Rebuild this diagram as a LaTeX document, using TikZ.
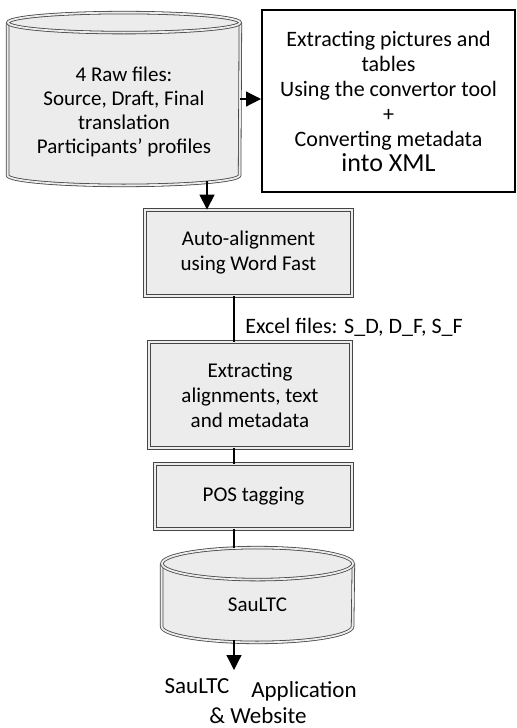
\documentclass[tikz,border=0pt]{standalone}
\usepackage{fontspec}
\setmainfont{Carlito}
\usetikzlibrary{arrows.meta}

\begin{document}
\begin{tikzpicture}[x=0.5pt,y=-0.5pt,
    stepbox/.style={draw=gray!55!black, double=gray!15, double distance=0.9pt,
      fill=gray!15, align=center, inner sep=0pt,
      font=\fontsize{10.5}{12.5}\selectfont},
    cylbox/.style={inner sep=0pt},
    rim/.style={draw=gray!55!black, double=gray!15, double distance=0.9pt},
    txt/.style={align=center, inner sep=0pt},
    arr/.style={-{Triangle[width=7.5pt,length=7.5pt]}, line width=0.6pt}]
  \useasboundingbox (0,0) rectangle (517,728);

  % raw input store and the side conversion step
  \node[cylbox, minimum width=116pt, minimum height=86pt] (raw) at (124,99) {};
  \fill[gray!15] ([yshift=-5pt]raw.north west) -- ([yshift=5pt]raw.south west)
    arc (180:360:58pt and 5pt) -- ([yshift=-5pt]raw.north east)
    arc (0:180:58pt and 5pt) -- cycle;
  \draw[rim] ([yshift=-5pt]raw.north west) -- ([yshift=5pt]raw.south west)
    arc (180:360:58pt and 5pt) -- ([yshift=-5pt]raw.north east);
  \draw[rim] ([yshift=-5pt]raw.north) ellipse [x radius=58pt, y radius=5pt];
  \node[txt, font=\fontsize{10.5}{12}\selectfont] (rawtxt) at (124,112)
    {4 Raw files:\\Source, Draft, Final\\translation\\Participants’ profiles};
  \node[draw, line width=1pt, minimum width=126.5pt, minimum height=91pt, txt,
    font=\fontsize{11}{12.5}\selectfont] (conv) at (388.5,101)
    {Extracting pictures and\\tables\\Using the convertor tool\\+\\Converting metadata\\{\fontsize{13}{13}\selectfont into XML}};

  % processing chain
  \node[stepbox, minimum width=103.5pt, minimum height=43pt] (auto) at (248.5,253)
    {Auto-alignment\\using Word Fast};
  \node[stepbox, minimum width=101pt, minimum height=53pt] (extr) at (250,395)
    {Extracting\\alignments, text\\and metadata};
  \node[stepbox, minimum width=98.5pt, minimum height=32.5pt] (pos) at (253.5,496.5)
    {POS tagging};

  % corpus store
  \node[cylbox, minimum width=95.5pt, minimum height=47pt] (corp) at (257.5,595) {};
  \fill[gray!15] ([yshift=-8pt]corp.north west) -- ([yshift=8pt]corp.south west)
    arc (180:360:47.75pt and 8pt) -- ([yshift=-8pt]corp.north east)
    arc (0:180:47.75pt and 8pt) -- cycle;
  \draw[rim] ([yshift=-8pt]corp.north west) -- ([yshift=8pt]corp.south west)
    arc (180:360:47.75pt and 8pt) -- ([yshift=-8pt]corp.north east);
  \draw[rim] ([yshift=-8pt]corp.north) ellipse [x radius=47.75pt, y radius=8pt];
  \node[txt, font=\fontsize{10.5}{12}\selectfont] (corptxt) at (257.5,605) {SauLTC};

  % outputs
  \node[txt, anchor=west, font=\fontsize{11}{12}\selectfont] (excel) at (245,327)
    {Excel files: S\_D, D\_F, S\_F};
  \node[txt, font=\fontsize{11.5}{12}\selectfont] (app1) at (197,686) {SauLTC};
  \node[txt, font=\fontsize{11.5}{12}\selectfont] (app2) at (304,691) {Application};
  \node[txt, font=\fontsize{11.5}{12}\selectfont] (app3) at (258,716) {\& Website};

  \coordinate (sp) at (234,300);
  \coordinate (out) at (234,670);

  % connectors
  \draw[arr] (raw.east) -- (raw.east -| conv.west);
  \draw[arr] ([shift={(41.5pt,2pt)}]raw.south) -- ([xshift=41.5pt]raw.south |- auto.north);
  \draw[line width=0.6pt] (auto.south -| sp) -- (extr.north -| sp);
  \draw[line width=0.6pt] (extr.south -| sp) -- (pos.north -| sp);
  \draw[line width=0.6pt] (pos.south -| sp) -- (corp.north -| sp);
  \draw[arr] ([yshift=1pt]corp.south -| sp) -- (out);
\end{tikzpicture}
\end{document}
